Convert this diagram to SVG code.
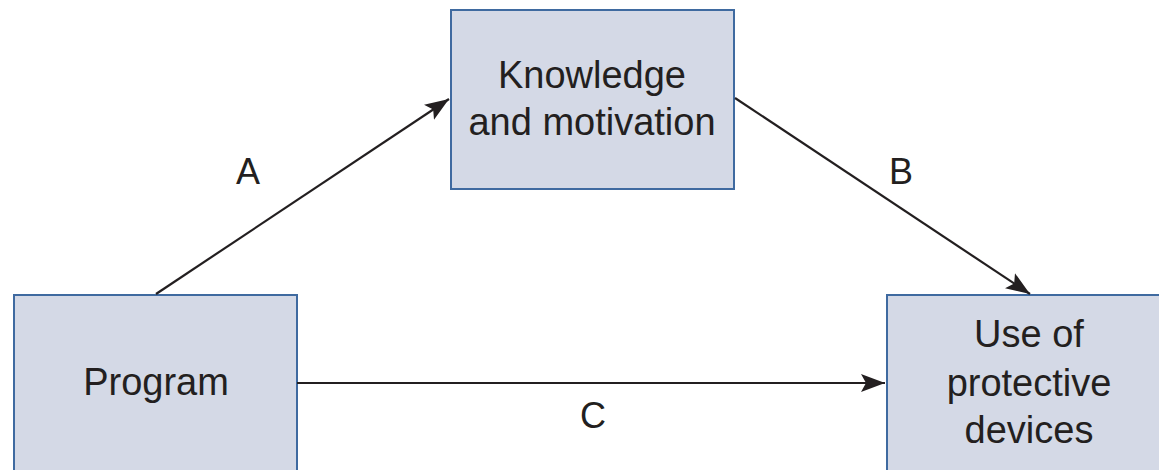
<svg xmlns="http://www.w3.org/2000/svg" width="1159" height="470" viewBox="0 0 1159 470">
<style>
.box{fill:#d4d9e6;stroke:#3f6aa0;stroke-width:2}
.t{font-family:"Liberation Sans",Arial,sans-serif;font-size:38px;fill:#231f20;text-anchor:middle}
.l{font-family:"Liberation Sans",Arial,sans-serif;font-size:36px;fill:#231f20;text-anchor:middle}
.c{stroke:#231f20;stroke-width:2.2;fill:none;marker-end:url(#ah)}
</style>
<defs>
<marker id="ah" markerUnits="userSpaceOnUse" markerWidth="30" markerHeight="24" viewBox="0 -12 30 24" refX="24" refY="0" orient="auto">
<path d="M0,-9 L24,0 L0,9 L5,0 Z" fill="#231f20"/>
</marker>
</defs>
<rect width="1159" height="470" fill="#fff"/>
<g id="knowledge">
<rect class="box" x="451" y="10" width="283" height="179"/>
<text class="t" x="592" y="88">Knowledge</text>
<text class="t" x="592" y="135">and motivation</text>
</g>
<g id="program">
<rect class="box" x="14" y="295" width="283" height="185"/>
<text class="t" x="156" y="395">Program</text>
</g>
<g id="use">
<rect class="box" x="887" y="295" width="283" height="185"/>
<text class="t" x="1029" y="347">Use of</text>
<text class="t" x="1029" y="396">protective</text>
<text class="t" x="1029" y="443">devices</text>
</g>
<g id="connectors">
<line class="c" x1="156" y1="294" x2="449" y2="99"/>
<line class="c" x1="735" y1="98" x2="1030" y2="294"/>
<line class="c" x1="297" y1="383" x2="885" y2="383"/>
<text class="l" x="248" y="184">A</text>
<text class="l" x="901" y="184">B</text>
<text class="l" x="593" y="428">C</text>
</g>
</svg>
